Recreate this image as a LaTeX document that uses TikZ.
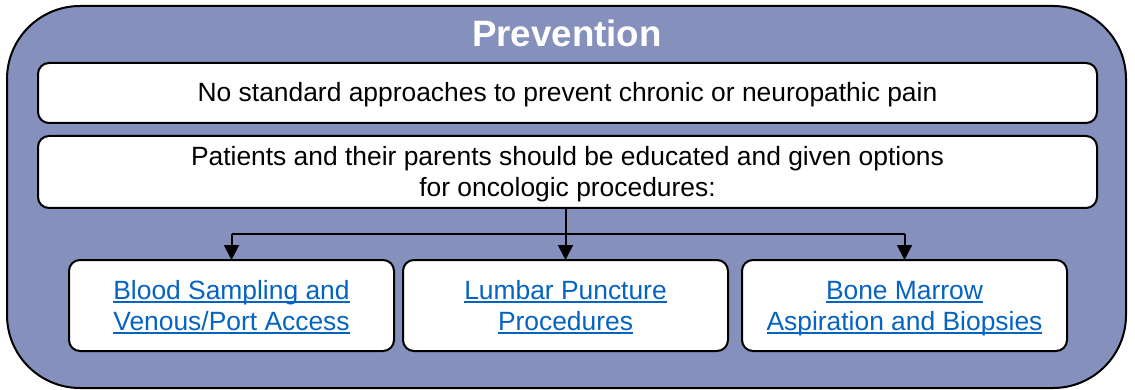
\documentclass[tikz,border=0pt]{standalone}
\usepackage{fontspec}
\setmainfont{Liberation Sans}
\usetikzlibrary{arrows.meta}
\definecolor{outerfill}{RGB}{133,144,188}
\definecolor{linkblue}{RGB}{5,99,193}
\newcommand{\myul}[1]{\setbox0\hbox{#1}\rlap{\rule[-3.5pt]{\wd0}{1.6pt}}\box0}
\newcommand{\lineone}[1]{\raisebox{-9pt}[0pt][0pt]{#1}}
\newcommand{\linetwo}[2]{\raisebox{-25pt}[0pt][0pt]{\vbox{\halign{\hfil##\hfil\cr #1\cr #2\cr}}}}
\tikzset{
  outerbox/.style={draw=black, line width=2pt, fill=outerfill, rounded corners=73pt},
  whitebox/.style={draw=black, line width=2pt, fill=white, rounded corners=11pt, inner sep=0pt,
    font=\fontsize{26.4}{31}\selectfont},
  linkbox/.style={whitebox, minimum width=325pt, minimum height=91pt, text=linkblue},
  conn/.style={draw=black, line width=2pt},
  arr/.style={conn, -{Triangle[width=15pt,length=15pt]}, shorten >=-1pt}
}
\begin{document}
\begin{tikzpicture}[x=1pt,y=-1pt]
\useasboundingbox (0,0) rectangle (1135,390);
\draw[outerbox] (7,6) rectangle (1126,388);
\node[font=\fontsize{36.7}{40}\selectfont\bfseries, text=white, anchor=base] (title) at (567,47) {Prevention};
\node[whitebox, minimum width=1059pt, minimum height=60pt] (b1) at (567.5,93)
  {\lineone{No standard approaches to prevent chronic or neuropathic pain}};
\node[whitebox, minimum width=1059pt, minimum height=72pt] (b2) at (567.5,172)
  {\linetwo{Patients and their parents should be educated and given options}{for oncologic procedures:}};
\node[linkbox] (bA) at (231.5,305.5) {\linetwo{\myul{Blood Sampling and}}{\myul{Venous/Port Access}}};
\node[linkbox] (bB) at (565.5,305.5) {\linetwo{\myul{Lumbar Puncture}}{\myul{Procedures}}};
\node[linkbox] (bC) at (904.5,305.5) {\linetwo{\myul{Bone Marrow}}{\myul{Aspiration and Biopsies}}};
\coordinate (j) at (565.5,234);
\draw[conn] (b2.south -| bB.north) -- (j);
\draw[conn] (j -| bA.north) -- (j -| bC.north);
\draw[arr] (j -| bA.north) -- (bA.north);
\draw[arr] (j) -- (bB.north);
\draw[arr] (j -| bC.north) -- (bC.north);
\end{tikzpicture}
\end{document}
